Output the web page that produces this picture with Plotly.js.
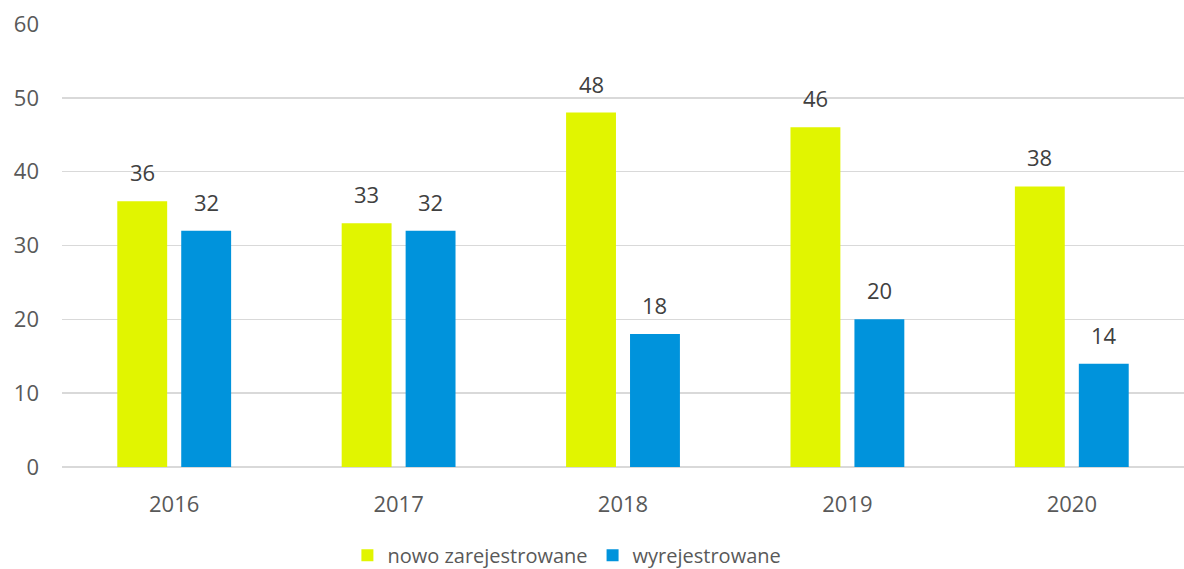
<!DOCTYPE html>
<html>
<head>
<meta charset="utf-8">
<script src="https://cdn.plot.ly/plotly-3.0.1.min.js"></script>
<style>html,body{margin:0;padding:0;background:#fff;}#chart{width:1184px;height:569px;}</style>
</head>
<body>
<div id="chart"></div>
<script>
const years = ['2016', '2017', '2018', '2019', '2020'];
const nowoZarejestrowane = [36, 33, 48, 46, 38];
const wyrejestrowane = [32, 32, 18, 20, 14];
const seriesNames = ['nowo zarejestrowane', 'wyrejestrowane'];
const yTicks = [0, 10, 20, 30, 40, 50, 60];

const FONT = 'Open Sans, sans-serif';
const traces = [
  {type: 'bar', name: seriesNames[0], x: years, y: nowoZarejestrowane,
   marker: {color: '#E1F500'}, offsetgroup: 'a'},
  {type: 'bar', name: seriesNames[1], x: years, y: wyrejestrowane,
   marker: {color: '#0093DC'}, offsetgroup: 'b'}
];

const annotations = [];
const groupOffsets = [-0.142, 0.142];
[nowoZarejestrowane, wyrejestrowane].forEach((vals, si) => {
  vals.forEach((v, i) => {
    annotations.push({x: i + groupOffsets[si], y: v, xref: 'x', yref: 'y', text: String(v),
      showarrow: false, yanchor: 'bottom', yshift: 12,
      font: {family: FONT, size: 22, color: '#404040'}});
  });
});

const layout = {
  width: 1184, height: 569,
  margin: {l: 62, r: 0, t: 24, b: 102, autoexpand: false},
  paper_bgcolor: '#fff', plot_bgcolor: '#fff',
  barmode: 'group', bargap: 0.43, bargroupgap: 0.22,
  showlegend: true,
  legend: {orientation: 'h', x: 0.45, xanchor: 'center', y: -0.155, yanchor: 'top',
    font: {family: FONT, size: 20, color: '#595959'}, itemwidth: 30},
  xaxis: {type: 'category', showgrid: false, zeroline: false, showline: false,
    ticks: '', ticklabelstandoff: 22,
    tickfont: {family: FONT, size: 22, color: '#595959'}},
  yaxis: {range: [0, 60], tickvals: yTicks, showgrid: true, gridcolor: '#D9D9D9', gridwidth: 1.5,
    zeroline: true, zerolinecolor: '#D9D9D9', zerolinewidth: 1.5, showline: false,
    ticks: '', ticklabelstandoff: 22,
    tickfont: {family: FONT, size: 22, color: '#595959'}},
  annotations: annotations
};

Plotly.newPlot('chart', traces, layout, {displayModeBar: false, staticPlot: true});
</script>
</body>
</html>
